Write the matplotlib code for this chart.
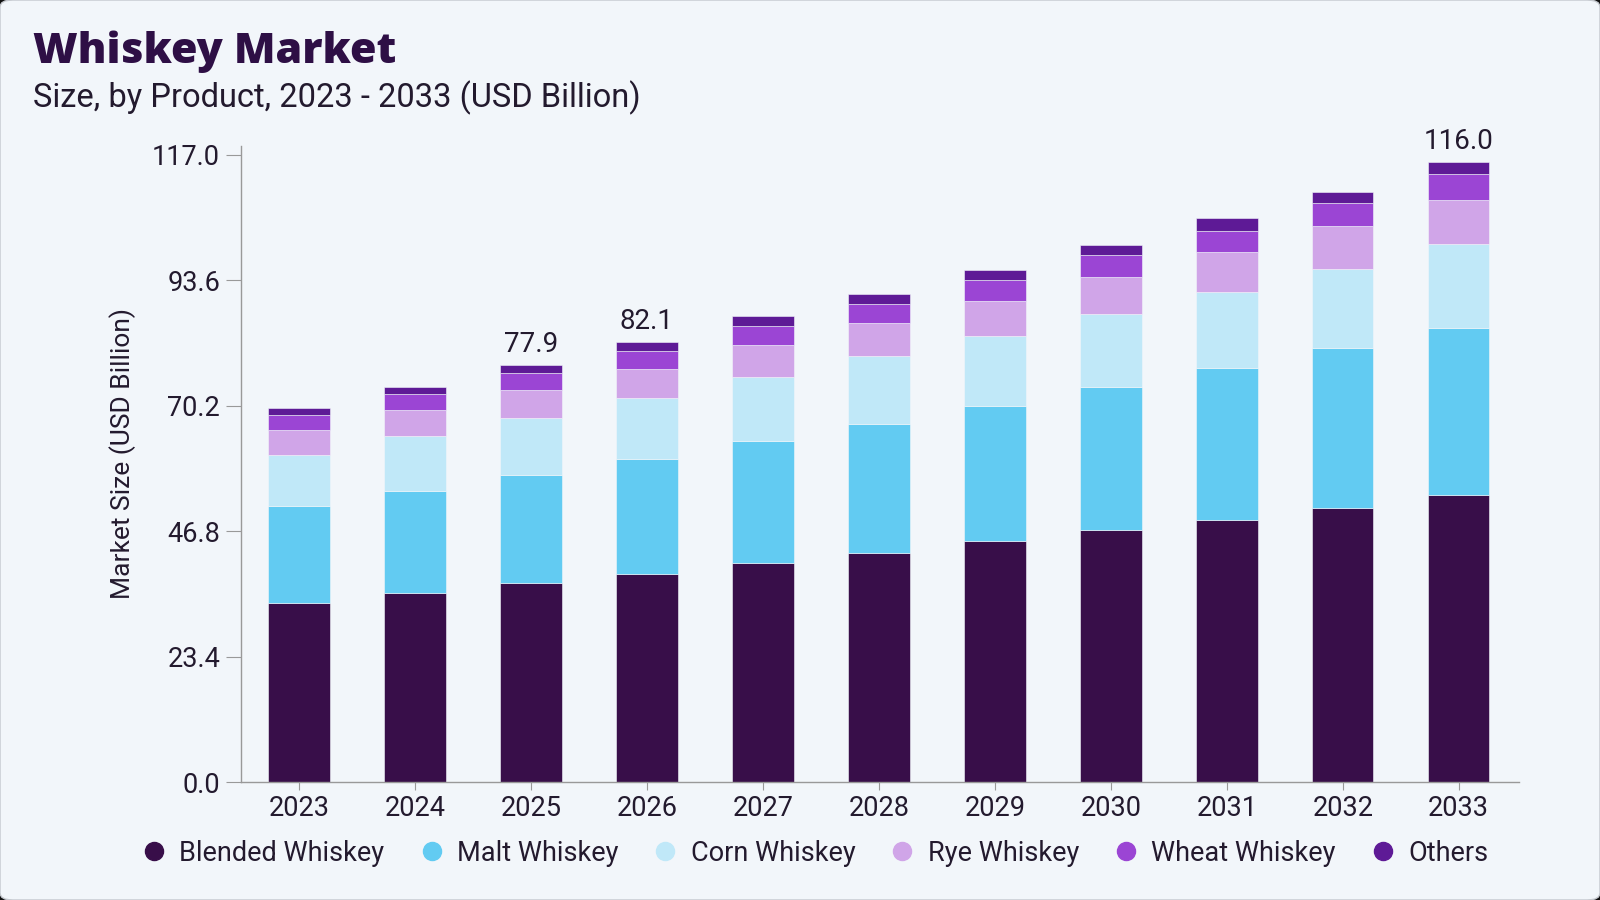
import matplotlib
matplotlib.use("Agg")
import matplotlib.pyplot as plt
from matplotlib.lines import Line2D
from matplotlib.patches import FancyBboxPatch

plt.rcParams['font.family'] = ['Roboto', 'DejaVu Sans']

# data (USD Billion)
years = ["2023", "2024", "2025", "2026", "2027", "2028", "2029", "2030", "2031", "2032", "2033"]
blended = [33.4, 35.3, 37.1, 38.8, 40.8, 42.7, 45.0, 46.9, 48.9, 51.1, 53.6]
malt = [18.1, 19.0, 20.2, 21.5, 22.7, 24.1, 25.1, 26.7, 28.3, 29.8, 31.1]
corn = [9.5, 10.2, 10.6, 11.3, 12.1, 12.6, 13.0, 13.7, 14.1, 14.8, 15.6]
rye = [4.6, 4.9, 5.2, 5.5, 5.9, 6.1, 6.6, 6.9, 7.5, 7.9, 8.3]
wheat = [2.8, 2.9, 3.1, 3.3, 3.6, 3.7, 3.9, 4.0, 4.0, 4.3, 4.7]
others = [1.4, 1.4, 1.5, 1.7, 1.8, 1.8, 1.9, 1.9, 2.3, 2.2, 2.3]

segment_names = ["Blended Whiskey", "Malt Whiskey", "Corn Whiskey", "Rye Whiskey", "Wheat Whiskey", "Others"]
segment_colors = ["#380e49", "#62cbf2", "#c0e8f8", "#d0a5e8", "#9b45d4", "#5e1a96"]

# totals printed over some bars
label_years = ["2025", "2026", "2033"]
label_values = [77.9, 82.1, 116.0]

y_ticks = [0.0, 23.4, 46.8, 70.2, 93.6, 117.0]

bg = "#f2f6fa"
text_col = "#231a2e"

fig = plt.figure(figsize=(16, 9), dpi=100, facecolor="#111111")
# rounded card behind everything (dark only shows in the corners)
card = FancyBboxPatch((0, 0), 1, 1, boxstyle="round,pad=0,rounding_size=0.008",
                      transform=fig.transFigure, facecolor=bg, edgecolor="#c4c8ce",
                      linewidth=1.0, zorder=-10)
fig.patches.append(card)

ax = fig.add_axes([0.1506, 0.1311, 0.7988, 0.7067])
ax.set_facecolor("none")

x = list(range(len(years)))
bottom = [0] * len(years)
for name, vals, col in zip(segment_names, [blended, malt, corn, rye, wheat, others], segment_colors):
    ax.bar(x, vals, width=0.53, bottom=bottom, color=col, label=name,
           edgecolor=bg, linewidth=0.4)
    bottom = [b + v for b, v in zip(bottom, vals)]

# total labels
for yr, val in zip(label_years, label_values):
    i = years.index(yr)
    ax.annotate(f"{val:.1f}", (i, bottom[i]), xytext=(0, 5), textcoords="offset points",
                ha="center", va="bottom", fontsize=20, color=text_col)

ax.set_xlim(-0.5, len(years) - 0.48)
ax.set_ylim(0, 118.6)
ax.set_xticks(x)
ax.set_xticklabels(years)
ax.set_yticks(y_ticks)
ax.set_yticklabels([f"{t:.1f}" for t in y_ticks])
ax.tick_params(axis="both", labelsize=19.5, colors="#999999", labelcolor=text_col)
ax.tick_params(axis="y", length=11, pad=4)
ax.tick_params(axis="x", length=6, pad=3)

for side in ["top", "right"]:
    ax.spines[side].set_visible(False)
for side in ["left", "bottom"]:
    ax.spines[side].set_color("#999999")
    ax.spines[side].set_linewidth(1.0)

ax.set_ylabel("Market Size (USD Billion)", fontsize=19, color=text_col)
ax.yaxis.set_label_coords(-0.082, 0.516)

# titles
fig.text(0.0206, 0.943, "Whiskey Market", fontsize=31, fontweight=800, family="Open Sans",
         color="#2e0f45", va="center", ha="left")
fig.text(0.0206, 0.891, "Size, by Product, 2023 - 2033 (USD Billion)", fontsize=23.5,
         color=text_col, va="center", ha="left")

# legend with round markers
handles = [Line2D([0], [0], marker="o", linestyle="", markersize=13,
                  markerfacecolor=c, markeredgecolor=c) for c in segment_colors]
fig.legend(handles, segment_names, loc="center", bbox_to_anchor=(0.509, 0.052), ncol=6,
           frameon=False, fontsize=19.5, handlelength=1.0, handletextpad=0.43,
           columnspacing=1.24, labelcolor=text_col)

fig.savefig("out.png", dpi=100, facecolor=fig.get_facecolor())
